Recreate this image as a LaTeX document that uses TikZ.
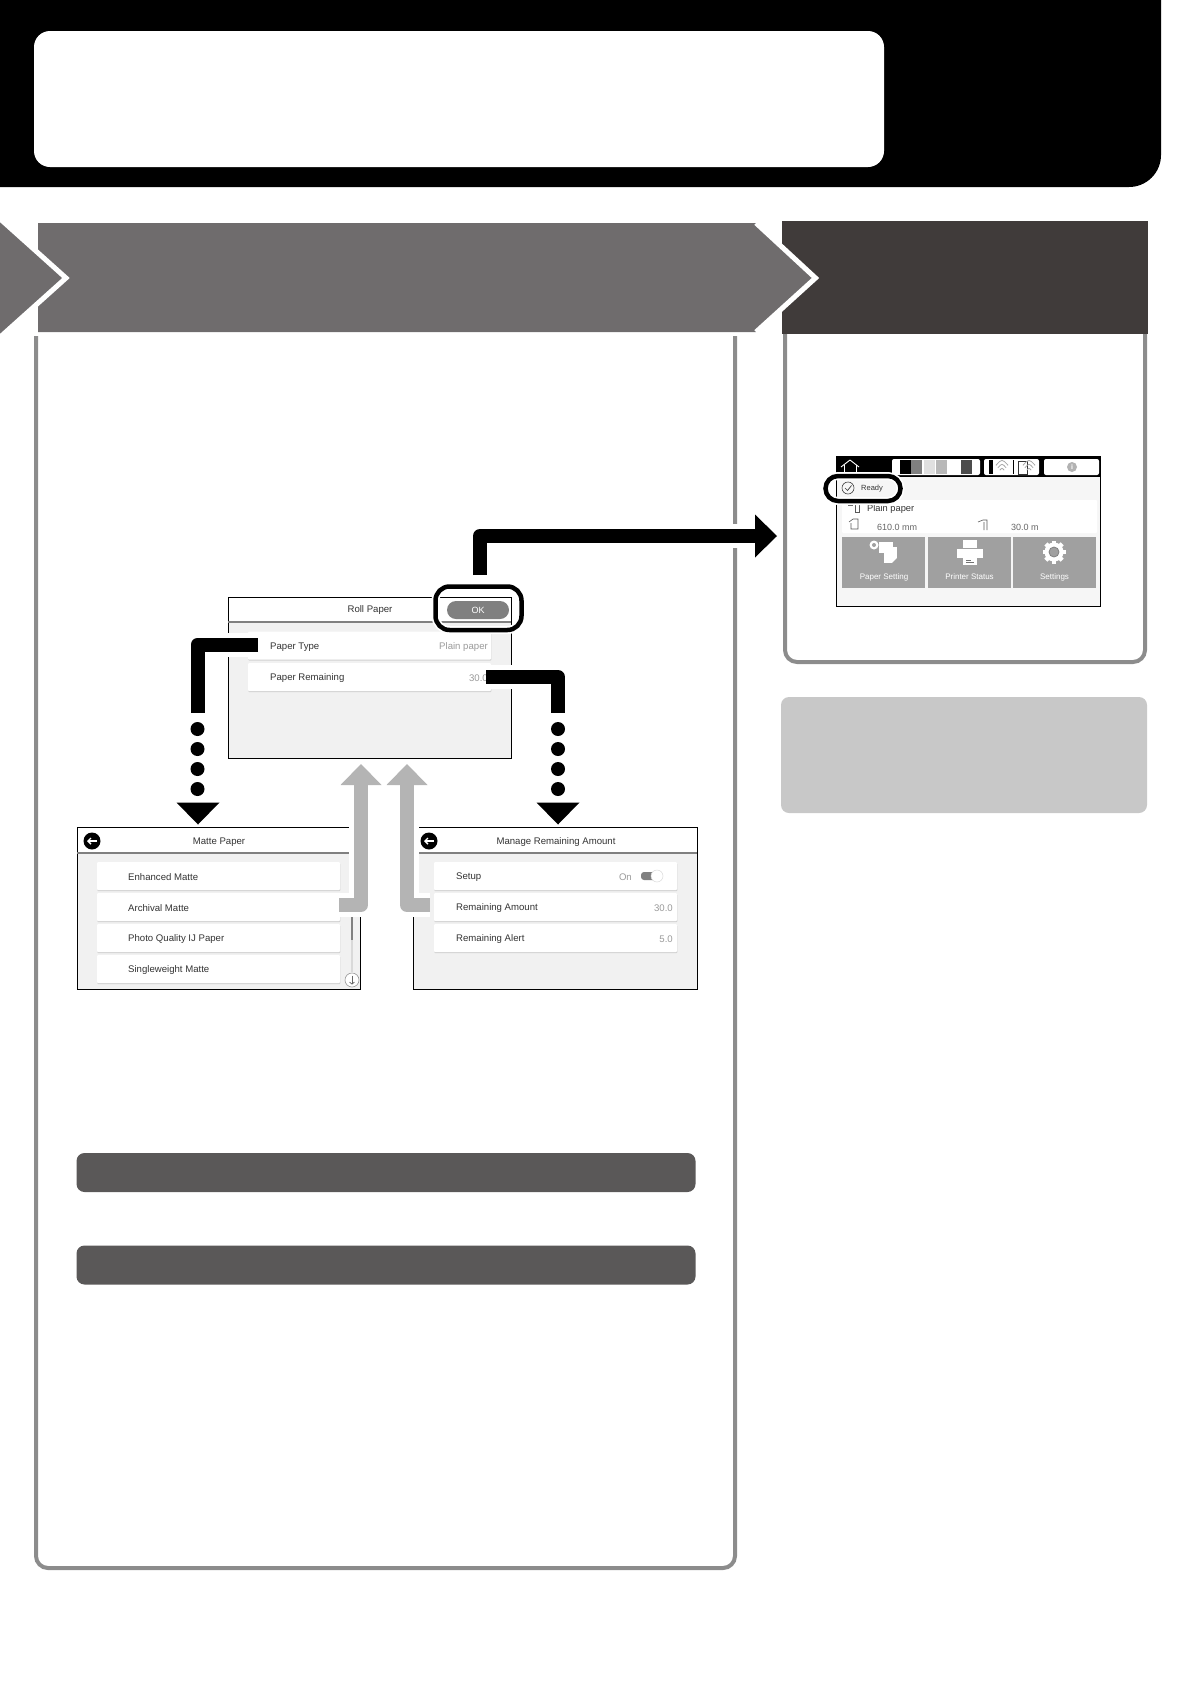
\documentclass[tikz,border=0pt]{standalone}
\usepackage{fontspec}
\setmainfont{Liberation Sans}
\usetikzlibrary{arrows.meta,calc,shadows}
\definecolor{bandgray}{HTML}{6F6C6D}
\definecolor{darkband}{HTML}{403B3A}
\definecolor{framegray}{HTML}{8C8C8C}
\definecolor{notegray}{HTML}{C8C8C8}
\definecolor{bargray}{HTML}{5A5858}
\definecolor{panelbg}{HTML}{F1F1F1}
\definecolor{homebg}{HTML}{F6F6F6}
\definecolor{headline}{HTML}{808080}
\definecolor{paleback}{HTML}{B4B4B4}
\definecolor{tilegray}{HTML}{A0A0A0}
\definecolor{scrtext}{HTML}{333333}
\definecolor{scrvalue}{HTML}{9A9A9A}
\tikzstyle{frameline}=[draw=framegray,line width=4pt,rounded corners=12pt]
\tikzstyle{chevronedge}=[draw=white,line width=5pt,miter limit=10]
\tikzstyle{roundbar}=[rectangle,fill=bargray,rounded corners=8pt,minimum width=619pt,minimum height=39pt,inner sep=0pt]
\tikzstyle{screen}=[rectangle,draw=black,fill=panelbg,line width=.8pt,inner sep=0pt,outer sep=0pt]
\tikzstyle{screenhead}=[rectangle,fill=white,inner sep=0pt,outer sep=0pt]
\tikzstyle{headrule}=[draw=headline,line width=2pt]
\tikzstyle{rowbox}=[rectangle,fill=white,rounded corners=1pt,minimum width=243pt,minimum height=28pt,inner sep=0pt,general shadow={shadow xshift=.4pt,shadow yshift=-1.2pt,fill=black!18}]
\tikzstyle{scrlabel}=[inner sep=0pt,yshift=-1pt,text=scrtext,font=\fontsize{9.6}{12}\selectfont]
\tikzstyle{scrvalue}=[inner sep=0pt,yshift=-1pt,text=scrvalue,font=\fontsize{9.6}{12}\selectfont]
\tikzstyle{ringmark}=[rectangle,draw=black,line width=4.5pt,inner sep=0pt,preaction={draw=white,line width=8pt}]
\tikzstyle{halo}=[draw=white,line width=24pt,line join=round]
\tikzstyle{blackshaft}=[draw=black,line width=14pt,line join=round]
\tikzstyle{paleshaft}=[draw=paleback,line width=14pt,line join=round]
\tikzstyle{dotmark}=[circle,fill=black,minimum size=14pt,inner sep=0pt]
\tikzstyle{backdisc}=[circle,fill=black,minimum size=17pt,inner sep=0pt]
\tikzstyle{tile}=[rectangle,fill=tilegray,minimum height=51pt,inner sep=0pt]
\tikzstyle{tilelabel}=[inner sep=0pt,text=white,font=\fontsize{8}{10}\selectfont]
\tikzstyle{whitechip}=[rectangle,fill=white,rounded corners=2pt,minimum height=16pt,inner sep=0pt]
\tikzset{
	bighead/.tip={Triangle[length=22pt,width=43pt,line width=0pt]},
	backarrow/.style={draw=white,line width=1.4pt,-{Straight Barb[length=3pt,width=6pt]}},
	smallicon/.style={draw=black!65,line width=.6pt}
}
\newcommand{\wifimark}[2]{
	\foreach \rad in {4,7.5,11}
		\draw[draw=black!35,line width=.8pt] ($(#1,#2)+(-.55*\rad,-.7*\rad)$) .. controls ($(#1,#2)+(0,-1.3*\rad)$) .. ($(#1,#2)+(.55*\rad,-.7*\rad)$);
}
\begin{document}
\begin{tikzpicture}[x=1pt,y=-1pt]
	\useasboundingbox (0,0) rectangle (1191,1684);

	% top banner
	\fill[black] (-5,-5) -- (1161,-5) [rounded corners=32pt] -- (1161,187) [sharp corners] -- (-5,187) -- cycle;
	\node[rectangle,fill=white,rounded corners=16pt,minimum width=850pt,minimum height=136pt,inner sep=0pt] (titlebox) at (459,99) {};

	% step bands
	\node[rectangle,fill=darkband,minimum width=366pt,minimum height=113pt,inner sep=0pt] (nextband) at (965,277.5) {};
	\fill[bandgray] (38,223) -- (756,223) -- (815.5,278) -- (756,332) -- (38,332) -- cycle;
	\draw[chevronedge] (756,223) -- (815.5,278) -- (756,332);
	\draw[chevronedge,fill=bandgray] (-12,208) -- (66,278) -- (-12,348);

	% frames
	\draw[frameline] (36,336) -- (36,1568) -- (735,1568) -- (735,336);
	\draw[frameline] (785,334) -- (785,662) -- (1145,662) -- (1145,334);

	\node[rectangle,fill=notegray,rounded corners=8pt,minimum width=366pt,minimum height=116pt,inner sep=0pt] (notebox) at (964,755) {};
	\node[roundbar] (barone) at (386,1172.5) {};
	\node[roundbar] (bartwo) at (386,1265) {};

	% roll paper screen
	\node[screen,minimum width=283pt,minimum height=161pt] (rollscreen) at (369.5,677.5) {};
	\node[screenhead,minimum width=282pt,minimum height=24pt] (rollhead) at (369.5,609.5) {};
	\draw[headrule] (rollscreen.west |- 0,622) -- (rollscreen.east |- 0,622);
	\node[rowbox] (typerow) at (369.5,645.5) {};
	\node[rowbox] (remainrow) at (369.5,677) {};
	\node[scrlabel] (rolltitle) at (370,609) {Roll Paper};
	\node[scrlabel,anchor=west] (typelabel) at (270,646) {Paper Type};
	\node[scrvalue,anchor=east] (typevalue) at (488,646) {Plain paper};
	\node[scrlabel,anchor=west] (remainlabel) at (270,677) {Paper Remaining};
	\node[scrvalue,anchor=east] (remainvalue) at (488,677) {30.0};
	\node[rectangle,fill=headline,rounded corners=9pt,minimum width=62pt,minimum height=18pt,inner sep=0pt,text=white,font=\fontsize{9}{11}\selectfont] (okbutton) at (478,610) {OK};

	% matte paper screen
	\node[screen,minimum width=283pt,minimum height=162pt] (mattescreen) at (218.5,908) {};
	\node[screenhead,minimum width=282pt,minimum height=25pt] (mattehead) at (218.5,840) {};
	\draw[headrule] (mattescreen.west |- 0,853) -- (mattescreen.east |- 0,853);
	\node[backdisc] (matteback) at (92,841) {};
	\draw[backarrow] ($(matteback)+(5,0)$) -- ($(matteback)+(-5,0)$);
	\node[scrlabel] (mattetitle) at (219,841) {Matte Paper};
	\foreach \i/\ypos/\ttext in {1/876/Enhanced Matte,2/907/Archival Matte,3/938/Photo Quality IJ Paper,4/969/Singleweight Matte}{
		\node[rowbox] (matterow\i) at (218.5,\ypos) {};
		\node[scrlabel,anchor=west] (mattelabel\i) at (128,\ypos) {\ttext};
	}
	\draw[draw=black!15,line width=1.2pt] (352,917) -- (352,972);
	\draw[draw=headline,line width=1.6pt] (352,917) -- (352,940);
	\node[circle,draw=black!40,fill=white,line width=.6pt,minimum size=14pt,inner sep=0pt] (mattedown) at (352,980) {};
	\draw[draw=black!60,line width=.7pt,-{Straight Barb[length=2pt,width=5pt]}] ($(mattedown)+(0,-4.5)$) -- ($(mattedown)+(0,4.5)$);

	% remaining amount screen
	\node[screen,minimum width=284pt,minimum height=162pt] (amountscreen) at (555,908) {};
	\node[screenhead,minimum width=283pt,minimum height=25pt] (amounthead) at (555,840) {};
	\draw[headrule] (amountscreen.west |- 0,853) -- (amountscreen.east |- 0,853);
	\node[backdisc] (amountback) at (429,841) {};
	\draw[backarrow] ($(amountback)+(5,0)$) -- ($(amountback)+(-5,0)$);
	\node[scrlabel] (amounttitle) at (556,841) {Manage Remaining Amount};
	\foreach \i/\ypos/\ttext in {1/876/Setup,2/907/Remaining Amount,3/938/Remaining Alert}{
		\node[rowbox] (amountrow\i) at (555.5,\ypos) {};
		\node[scrlabel,anchor=west] (amountlabel\i) at (456,\ypos) {\ttext};
	}
	\node[scrvalue,anchor=east] (setupvalue) at (632,876) {On};
	\node[rectangle,fill=headline,rounded corners=3pt,minimum width=20pt,minimum height=8pt,inner sep=0pt] (toggletrack) at (651,876) {};
	\node[circle,draw=black!15,fill=white,line width=.5pt,minimum size=12pt,inner sep=0pt] (toggleknob) at (657,876) {};
	\node[scrvalue,anchor=east] (amountvalue) at (673,907) {30.0};
	\node[scrvalue,anchor=east] (alertvalue) at (673,938) {5.0};

	% connectors of the left frame
	\coordinate (okstart) at (480,575);
	\coordinate (okend) at (777,536);
	\draw[halo] (okstart) |- (okend);
	\draw[blackshaft,-bighead] (okstart) |- (okend);

	\coordinate (typestart) at (258,644.5);
	\coordinate (typeend) at (197.5,713);
	\draw[halo] (typestart) -| (typeend);
	\draw[blackshaft] (typestart) -| (typeend);

	\coordinate (remainstart) at (486,677);
	\coordinate (remainend) at (558,713);
	\draw[halo] (remainstart) -| (remainend);
	\draw[blackshaft] (remainstart) -| (remainend);

	\foreach \i/\ypos in {1/729,2/749,3/769,4/789}{
		\node[dotmark] (typedot\i) at (197.5,\ypos) {};
		\node[dotmark] (remaindot\i) at (558,\ypos) {};
	}
	\coordinate (typetipa) at (198,802.5);
	\coordinate (typetipb) at (198,824.5);
	\coordinate (remaintipa) at (558,802.5);
	\coordinate (remaintipb) at (558,824.5);
	\draw[blackshaft,line width=.1pt,-bighead] (typetipa) -- (typetipb);
	\draw[blackshaft,line width=.1pt,-bighead] (remaintipa) -- (remaintipb);

	\coordinate (archivalstart) at (339,905);
	\coordinate (archivalend) at (361,764);
	\draw[halo] (archivalstart) -| (archivalend);
	\draw[paleshaft,-{Triangle[length=21pt,width=41pt,line width=0pt]}] (archivalstart) -| (archivalend);

	\coordinate (amountstart) at (430,905);
	\coordinate (amountend) at (407,764);
	\draw[halo] (amountstart) -| (amountend);
	\draw[paleshaft,-{Triangle[length=21pt,width=41pt,line width=0pt]}] (amountstart) -| (amountend);

	\node[ringmark,rounded corners=14pt,minimum width=86pt,minimum height=43.5pt] (okring) at (478.5,608.25) {};

	% home screen
	\node[rectangle,draw=black,fill=homebg,line width=.8pt,minimum width=264pt,minimum height=150pt,inner sep=0pt] (homescreen) at (968,531) {};
	\fill[black] (836,456) rectangle (1100,477);
	\draw[draw=white,line width=.9pt,line join=round] (841,467) -- (850,460) -- (859,467);
	\draw[draw=white,line width=.9pt] (844,465) -- (844,474) -- (856,474) -- (856,465);

	\node[whitechip,minimum width=88pt] (inkchip) at (936,467) {};
	\foreach \xpos/\tone in {905.5/black,916.5/black!50,929.5/black!12,941.5/black!28,966.5/black!70}
		\fill[\tone] ($(\xpos,467)+(-5.5,-7)$) rectangle ($(\xpos,467)+(5.5,7)$);
	\node[whitechip,minimum width=55pt] (wifichip) at (1011.5,467) {};
	\fill[black] (989,460) rectangle (993,474);
	\wifimark{1002}{473}
	\draw[draw=black,line width=.8pt] (1013,460) -- (1013,474);
	\draw[draw=black!80,line width=.8pt] (1018,461) rectangle (1027,474);
	\wifimark{1029}{473}
	\node[whitechip,minimum width=55pt] (infochip) at (1071.5,467) {};
	\node[circle,fill=black!30,minimum size=10pt,inner sep=0pt,text=white,font=\bfseries\fontsize{7}{8}\selectfont] (infomark) at (1072,467) {i};

	\node[rectangle,fill=white,minimum width=255pt,minimum height=33pt,inner sep=0pt,rounded corners=1pt] (mediarow) at (969.5,516.5) {};
	\node[scrlabel,anchor=west,font=\fontsize{9.3}{11}\selectfont] (medialabel) at (867,508) {Plain paper};
	\node[scrlabel,anchor=west,font=\fontsize{9}{11}\selectfont,text=black!60] (widthlabel) at (877,526) {610.0 mm};
	\node[scrlabel,anchor=west,font=\fontsize{9}{11}\selectfont,text=black!60] (lengthlabel) at (1011,526) {30.0 m};
	\draw[smallicon] (848,505) -- (853,505) (855,504) rectangle (859,512);
	\draw[smallicon] (849,522) -- (853,519) -- (858,519) -- (858,529) -- (851,529) -- (851,523);
	\draw[smallicon] (978,522) -- (983,520) -- (987,520) -- (987,530) (984,522) -- (984,530);

	\node[tile,minimum width=83pt] (papertile) at (883.5,562.5) {};
	\node[tile,minimum width=83pt] (statustile) at (969.5,562.5) {};
	\node[tile,minimum width=83pt] (settingtile) at (1054.5,562.5) {};
	\node[tilelabel] (paperlabel) at (884,577) {Paper Setting};
	\node[tilelabel] (statuslabel) at (969.5,577) {Printer Status};
	\node[tilelabel] (settinglabel) at (1054.5,577) {Settings};

	% tile icons
	\node[circle,fill=white,minimum size=9pt,inner sep=0pt] (rollcap) at (874,545) {};
	\node[circle,fill=tilegray,minimum size=4pt,inner sep=0pt] (rollcore) at (874,545) {};
	\fill[white] (879,542) rectangle (893,553);
	\fill[white] (884,547) rectangle (897,563);
	\fill[tilegray] (892,563) -- (897,558) -- (897,563) -- cycle;
	\fill[white] (963,540) rectangle (977,548);
	\fill[white] (957,549) rectangle (983,558);
	\fill[white] (963,557) rectangle (977,565);
	\draw[draw=black!55,line width=.6pt] (966,560) -- (971,560) (966,562.5) -- (974,562.5);
	\foreach \a in {0,45,...,315}
		\draw[draw=white,line width=4.5pt] ($(1054,552)+(\a:7)$) -- ($(1054,552)+(\a:11.5)$);
	\node[circle,fill=white,minimum size=19pt,inner sep=0pt] (gearbody) at (1054,552) {};
	\node[circle,draw=tilegray!80!black,fill=tilegray,line width=.8pt,minimum size=10pt,inner sep=0pt] (gearcore) at (1054,552) {};

	\node[ringmark,rounded corners=12.5pt,minimum width=75pt,minimum height=25pt] (readyring) at (863,488.5) {};
	\node[circle,draw=black!75,line width=.6pt,minimum size=12pt,inner sep=0pt] (readycheck) at (848,488) {};
	\draw[draw=black!75,line width=.7pt] (845,488) -- (847.5,490.5) -- (851.5,485.5);
	\node[scrlabel,anchor=west,font=\fontsize{7.5}{9}\selectfont] (readylabel) at (861,488) {Ready};
\end{tikzpicture}
\end{document}
